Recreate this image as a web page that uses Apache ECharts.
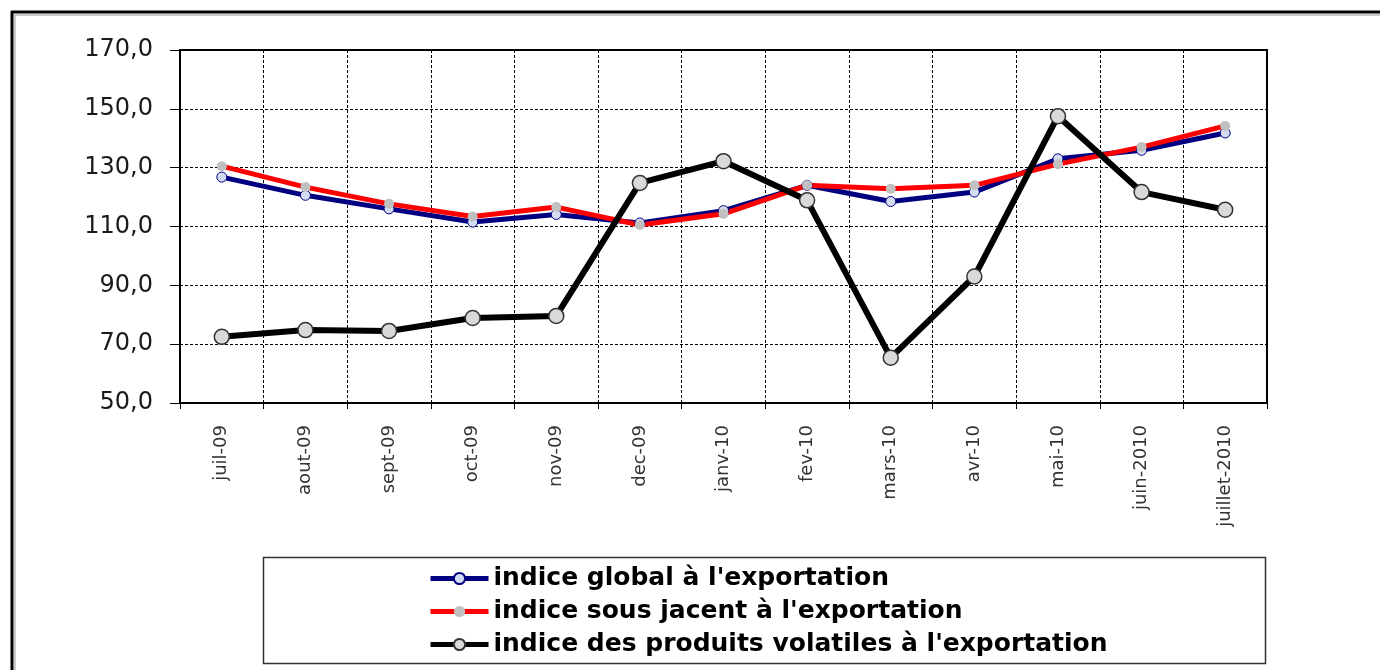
<!DOCTYPE html>
<html>
<head>
<meta charset="utf-8">
<title>indices à l'exportation</title>
<script src="https://cdn.jsdelivr.net/npm/echarts@6/dist/echarts.min.js"></script>
<style>
  html, body { margin: 0; padding: 0; background: #fff; }
  #chart { width: 1380px; height: 670px; }
</style>
</head>
<body>
<div id="chart"></div>
<script>
// mois
const categories = ['juil-09', 'aout-09', 'sept-09', 'oct-09', 'nov-09', 'dec-09', 'janv-10',
  'fev-10', 'mars-10', 'avr-10', 'mai-10', 'juin-2010', 'juillet-2010']
// indice global à l'exportation
const globalIdx = [126.8, 120.6, 116.0, 111.5, 114.1, 111.2, 115.4, 124.0, 118.5, 121.7, 133.0, 135.9, 141.8]
// indice sous jacent à l'exportation
const sousJacent = [130.5, 123.4, 117.7, 113.4, 116.6, 110.5, 114.3, 124.0, 122.8, 124.0, 131.2, 137.0, 144.2]
// indice des produits volatiles à l'exportation
const volatiles = [72.5, 74.8, 74.5, 78.9, 79.6, 124.8, 132.2, 118.9, 65.4, 93.0, 147.5, 121.7, 115.7]
const yTicks = { min: 50, max: 170, interval: 20 }

const names = [
  "indice global à l'exportation",
  "indice sous jacent à l'exportation",
  "indice des produits volatiles à l'exportation"
]

const myChart = echarts.init(document.getElementById('chart'))

const option = {
  animation: false,
  backgroundColor: '#fff',
  grid: {
    left: 180,
    right: 113,
    top: 50,
    bottom: 267,
    show: true,
    borderColor: '#000',
    borderWidth: 2
  },
  legend: {
    orient: 'vertical',
    left: 423,
    top: 561,
    itemWidth: 58,
    itemHeight: 14,
    itemGap: 8,
    data: names,
    lineStyle: { width: 5 },
    textStyle: {
      fontFamily: 'DejaVu Sans',
      fontWeight: 'bold',
      fontSize: 25,
      lineHeight: 25,
      color: '#000'
    }
  },
  xAxis: {
    type: 'category',
    data: categories,
    boundaryGap: true,
    axisLine: { lineStyle: { color: '#000', width: 2 } },
    axisTick: { show: true, length: 6, lineStyle: { color: '#000', width: 1 } },
    axisLabel: {
      interval: 0,
      rotate: 90,
      margin: 22,
      fontFamily: 'DejaVu Sans',
      fontSize: 18,
      color: '#333'
    },
    splitLine: {
      show: true,
      lineStyle: { color: '#000', width: 1, type: [3, 2] }
    }
  },
  yAxis: {
    type: 'value',
    min: yTicks.min,
    max: yTicks.max,
    interval: yTicks.interval,
    axisLine: { show: true, lineStyle: { color: '#000', width: 2 } },
    axisTick: { show: true, length: 10, lineStyle: { color: '#000', width: 1 } },
    axisLabel: {
      margin: 27,
      fontFamily: 'DejaVu Sans',
      fontSize: 24,
      color: '#1a1a1a',
      formatter: v => v.toFixed(1).replace('.', ',')
    },
    splitLine: {
      lineStyle: { color: '#000', width: 1, type: [3, 2] }
    }
  },
  graphic: [
    // cadre extérieur
    { type: 'line', shape: { x1: 11, y1: 12, x2: 1380, y2: 12 }, style: { stroke: '#000', lineWidth: 3 } },
    { type: 'line', shape: { x1: 15, y1: 15, x2: 1380, y2: 15 }, style: { stroke: '#999', lineWidth: 1 } },
    { type: 'line', shape: { x1: 12, y1: 11, x2: 12, y2: 670 }, style: { stroke: '#000', lineWidth: 3 } },
    { type: 'line', shape: { x1: 15, y1: 15, x2: 15, y2: 670 }, style: { stroke: '#999', lineWidth: 1 } },
    // cadre de la légende
    {
      type: 'rect',
      shape: { x: 263.5, y: 557.5, width: 1002, height: 106 },
      style: { fill: 'none', stroke: '#333', lineWidth: 1.5 },
      z: -1
    }
  ],
  series: [
    {
      name: names[0],
      type: 'line',
      data: globalIdx,
      symbol: 'circle',
      symbolSize: 10,
      lineStyle: { color: '#000080', width: 5 },
      itemStyle: { color: '#d4dcf2', borderColor: '#000080', borderWidth: 1 }
    },
    {
      name: names[1],
      type: 'line',
      data: sousJacent,
      symbol: 'circle',
      symbolSize: 10,
      lineStyle: { color: '#ff0000', width: 5 },
      itemStyle: { color: '#c0c0c0', borderWidth: 0 }
    },
    {
      name: names[2],
      type: 'line',
      data: volatiles,
      symbol: 'circle',
      symbolSize: 15,
      lineStyle: { color: '#000', width: 6 },
      itemStyle: { color: '#d9d9d9', borderColor: '#333', borderWidth: 1.5 }
    }
  ]
}

myChart.setOption(option)
</script>
</body>
</html>
